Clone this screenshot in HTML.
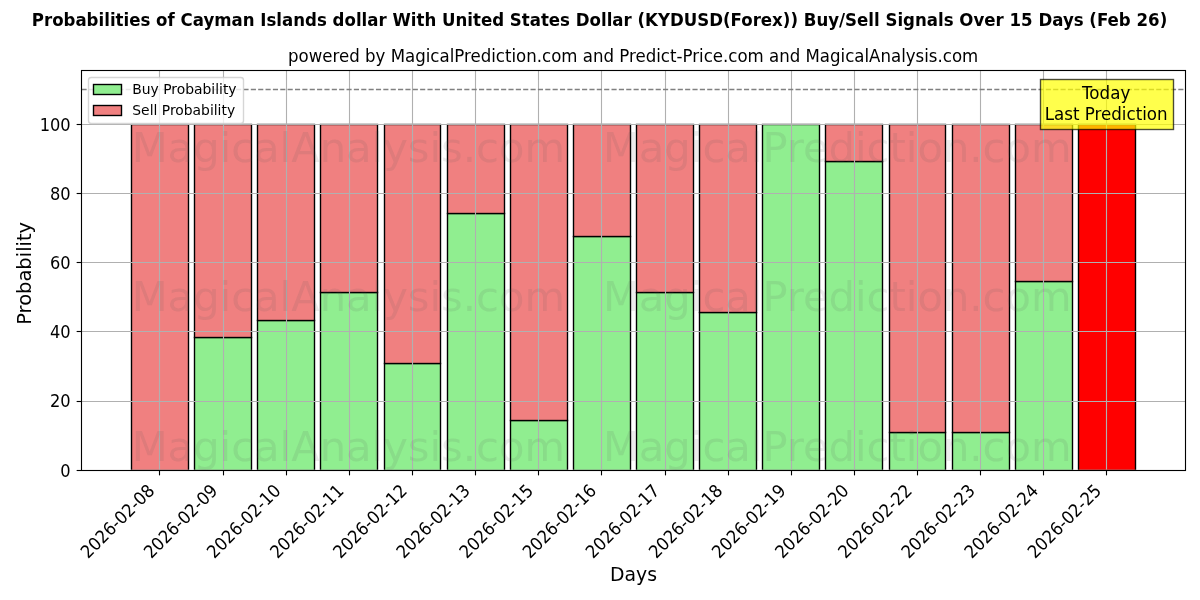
<!DOCTYPE html>
<html lang="en"><head><meta charset="utf-8"><title>KYDUSD Buy/Sell Signals</title>
<style>html,body{margin:0;padding:0;background:#fff}body{width:1200px;height:600px;overflow:hidden}svg{display:block;font-family:'DejaVu Sans','Liberation Sans',sans-serif}.t12{font-size:16.667px}.t14{font-size:19.444px}.t10{font-size:13.889px}.wm{font-size:41.667px;fill:#555;fill-opacity:0.11;text-anchor:middle}.mid{text-anchor:middle}.end{text-anchor:end}.bar{stroke:#000;stroke-width:1.389;stroke-linejoin:miter}.grid{stroke:#b0b0b0;stroke-width:1.111;fill:none}.tick{stroke:#000;stroke-width:1.111}.spine{stroke:#000;stroke-width:1.111;stroke-linecap:square;fill:none}</style></head><body>
<svg width="1200" height="600" viewBox="0 0 1200 600">
<rect width="1200" height="600" fill="#fff"/>
<defs><clipPath id="axclip"><rect x="80.903" y="70.333" width="1104.097" height="399.514"/></clipPath></defs>
<g clip-path="url(#axclip)">
<g id="buy-bars">
<rect class="bar" x="131.5" y="470.5" width="57" height="0" fill="#90ee90"/>
<rect class="bar" x="194.5" y="337.5" width="57" height="133" fill="#90ee90"/>
<rect class="bar" x="257.5" y="320.5" width="57" height="150" fill="#90ee90"/>
<rect class="bar" x="320.5" y="292.5" width="57" height="178" fill="#90ee90"/>
<rect class="bar" x="384.5" y="363.5" width="56" height="107" fill="#90ee90"/>
<rect class="bar" x="447.5" y="213.5" width="57" height="257" fill="#90ee90"/>
<rect class="bar" x="510.5" y="420.5" width="57" height="50" fill="#90ee90"/>
<rect class="bar" x="573.5" y="236.5" width="57" height="234" fill="#90ee90"/>
<rect class="bar" x="636.5" y="292.5" width="57" height="178" fill="#90ee90"/>
<rect class="bar" x="699.5" y="312.5" width="57" height="158" fill="#90ee90"/>
<rect class="bar" x="762.5" y="124.5" width="57" height="346" fill="#90ee90"/>
<rect class="bar" x="825.5" y="161.5" width="57" height="309" fill="#90ee90"/>
<rect class="bar" x="889.5" y="432.5" width="56" height="38" fill="#90ee90"/>
<rect class="bar" x="952.5" y="432.5" width="57" height="38" fill="#90ee90"/>
<rect class="bar" x="1015.5" y="281.5" width="57" height="189" fill="#90ee90"/>
</g><g id="sell-bars">
<rect class="bar" x="131.5" y="124.5" width="57" height="346" fill="#f08080"/>
<rect class="bar" x="194.5" y="124.5" width="57" height="213" fill="#f08080"/>
<rect class="bar" x="257.5" y="124.5" width="57" height="196" fill="#f08080"/>
<rect class="bar" x="320.5" y="124.5" width="57" height="168" fill="#f08080"/>
<rect class="bar" x="384.5" y="124.5" width="56" height="239" fill="#f08080"/>
<rect class="bar" x="447.5" y="124.5" width="57" height="89" fill="#f08080"/>
<rect class="bar" x="510.5" y="124.5" width="57" height="296" fill="#f08080"/>
<rect class="bar" x="573.5" y="124.5" width="57" height="112" fill="#f08080"/>
<rect class="bar" x="636.5" y="124.5" width="57" height="168" fill="#f08080"/>
<rect class="bar" x="699.5" y="124.5" width="57" height="188" fill="#f08080"/>
<rect class="bar" x="762.5" y="124.5" width="57" height="0" fill="#f08080"/>
<rect class="bar" x="825.5" y="124.5" width="57" height="37" fill="#f08080"/>
<rect class="bar" x="889.5" y="124.5" width="56" height="308" fill="#f08080"/>
<rect class="bar" x="952.5" y="124.5" width="57" height="308" fill="#f08080"/>
<rect class="bar" x="1015.5" y="124.5" width="57" height="157" fill="#f08080"/>
</g><g id="today-bar">
<rect class="bar" x="1078.5" y="124.5" width="57" height="346" fill="#ff0000"/>
</g>
<g id="grid">
<line class="grid" x1="159.5" x2="159.5" y1="70.333" y2="469.847"/>
<line class="grid" x1="223.5" x2="223.5" y1="70.333" y2="469.847"/>
<line class="grid" x1="286.5" x2="286.5" y1="70.333" y2="469.847"/>
<line class="grid" x1="349.5" x2="349.5" y1="70.333" y2="469.847"/>
<line class="grid" x1="412.5" x2="412.5" y1="70.333" y2="469.847"/>
<line class="grid" x1="475.5" x2="475.5" y1="70.333" y2="469.847"/>
<line class="grid" x1="538.5" x2="538.5" y1="70.333" y2="469.847"/>
<line class="grid" x1="601.5" x2="601.5" y1="70.333" y2="469.847"/>
<line class="grid" x1="665.5" x2="665.5" y1="70.333" y2="469.847"/>
<line class="grid" x1="728.5" x2="728.5" y1="70.333" y2="469.847"/>
<line class="grid" x1="791.5" x2="791.5" y1="70.333" y2="469.847"/>
<line class="grid" x1="854.5" x2="854.5" y1="70.333" y2="469.847"/>
<line class="grid" x1="917.5" x2="917.5" y1="70.333" y2="469.847"/>
<line class="grid" x1="980.5" x2="980.5" y1="70.333" y2="469.847"/>
<line class="grid" x1="1043.5" x2="1043.5" y1="70.333" y2="469.847"/>
<line class="grid" x1="1106.5" x2="1106.5" y1="70.333" y2="469.847"/>
<line class="grid" x1="80.903" x2="1185" y1="470.5" y2="470.5"/>
<line class="grid" x1="80.903" x2="1185" y1="401.5" y2="401.5"/>
<line class="grid" x1="80.903" x2="1185" y1="331.5" y2="331.5"/>
<line class="grid" x1="80.903" x2="1185" y1="262.5" y2="262.5"/>
<line class="grid" x1="80.903" x2="1185" y1="193.5" y2="193.5"/>
<line class="grid" x1="80.903" x2="1185" y1="124.5" y2="124.5"/>
</g>
<line x1="81.5" x2="1185" y1="89.5" y2="89.5" stroke="#808080" stroke-width="1.389" stroke-dasharray="5.139 2.222"/>
</g>
<g id="ticks">
<line class="tick" x1="159.5" x2="159.5" y1="470.5" y2="475.361"/>
<line class="tick" x1="223.5" x2="223.5" y1="470.5" y2="475.361"/>
<line class="tick" x1="286.5" x2="286.5" y1="470.5" y2="475.361"/>
<line class="tick" x1="349.5" x2="349.5" y1="470.5" y2="475.361"/>
<line class="tick" x1="412.5" x2="412.5" y1="470.5" y2="475.361"/>
<line class="tick" x1="475.5" x2="475.5" y1="470.5" y2="475.361"/>
<line class="tick" x1="538.5" x2="538.5" y1="470.5" y2="475.361"/>
<line class="tick" x1="601.5" x2="601.5" y1="470.5" y2="475.361"/>
<line class="tick" x1="665.5" x2="665.5" y1="470.5" y2="475.361"/>
<line class="tick" x1="728.5" x2="728.5" y1="470.5" y2="475.361"/>
<line class="tick" x1="791.5" x2="791.5" y1="470.5" y2="475.361"/>
<line class="tick" x1="854.5" x2="854.5" y1="470.5" y2="475.361"/>
<line class="tick" x1="917.5" x2="917.5" y1="470.5" y2="475.361"/>
<line class="tick" x1="980.5" x2="980.5" y1="470.5" y2="475.361"/>
<line class="tick" x1="1043.5" x2="1043.5" y1="470.5" y2="475.361"/>
<line class="tick" x1="1106.5" x2="1106.5" y1="470.5" y2="475.361"/>
<line class="tick" x1="76.639" x2="81.5" y1="470.5" y2="470.5"/>
<line class="tick" x1="76.639" x2="81.5" y1="401.5" y2="401.5"/>
<line class="tick" x1="76.639" x2="81.5" y1="331.5" y2="331.5"/>
<line class="tick" x1="76.639" x2="81.5" y1="262.5" y2="262.5"/>
<line class="tick" x1="76.639" x2="81.5" y1="193.5" y2="193.5"/>
<line class="tick" x1="76.639" x2="81.5" y1="124.5" y2="124.5"/>
</g>
<rect class="spine" x="81.5" y="70.5" width="1104" height="400"/>
<g id="xlabels" class="t12">
<text class="t12" transform="translate(88.055 559.264) rotate(-45) scale(0.986 1.067)">2026-02-08</text>
<text class="t12" transform="translate(151.183 559.264) rotate(-45) scale(0.986 1.067)">2026-02-09</text>
<text class="t12" transform="translate(214.31 559.264) rotate(-45) scale(0.986 1.067)">2026-02-10</text>
<text class="t12" transform="translate(277.437 559.264) rotate(-45) scale(0.986 1.067)">2026-02-11</text>
<text class="t12" transform="translate(340.565 559.264) rotate(-45) scale(0.986 1.067)">2026-02-12</text>
<text class="t12" transform="translate(403.692 559.264) rotate(-45) scale(0.986 1.067)">2026-02-13</text>
<text class="t12" transform="translate(466.82 559.264) rotate(-45) scale(0.986 1.067)">2026-02-15</text>
<text class="t12" transform="translate(529.947 559.264) rotate(-45) scale(0.986 1.067)">2026-02-16</text>
<text class="t12" transform="translate(593.074 559.264) rotate(-45) scale(0.986 1.067)">2026-02-17</text>
<text class="t12" transform="translate(656.202 559.264) rotate(-45) scale(0.986 1.067)">2026-02-18</text>
<text class="t12" transform="translate(719.329 559.264) rotate(-45) scale(0.986 1.067)">2026-02-19</text>
<text class="t12" transform="translate(782.456 559.264) rotate(-45) scale(0.986 1.067)">2026-02-20</text>
<text class="t12" transform="translate(845.584 559.264) rotate(-45) scale(0.986 1.067)">2026-02-22</text>
<text class="t12" transform="translate(908.711 559.264) rotate(-45) scale(0.986 1.067)">2026-02-23</text>
<text class="t12" transform="translate(971.838 559.264) rotate(-45) scale(0.986 1.067)">2026-02-24</text>
<text class="t12" transform="translate(1034.966 559.264) rotate(-45) scale(0.986 1.067)">2026-02-25</text>
</g><g id="ylabels" class="t12 end">
<text class="t12 end" transform="translate(70.681 477) scale(0.975 1.093)">0</text>
<text class="t12 end" transform="translate(70.681 407) scale(0.975 1.093)">20</text>
<text class="t12 end" transform="translate(70.681 338) scale(0.975 1.093)">40</text>
<text class="t12 end" transform="translate(70.681 269) scale(0.975 1.093)">60</text>
<text class="t12 end" transform="translate(70.681 200) scale(0.975 1.093)">80</text>
<text class="t12 end" transform="translate(70.681 131) scale(0.975 1.093)">100</text>
</g>
<text class="t14 mid" transform="translate(633.501 580.795) scale(0.97 0.955)">Days</text>
<text class="t14 mid" transform="translate(30.769 273.34) rotate(-90) scale(1.002 1)">Probability</text>
<rect x="1040.5" y="79.5" width="133" height="50" fill="#ffff00" fill-opacity="0.7" stroke="#000" stroke-opacity="0.7" stroke-width="1.389"/>
<text class="t12 mid" transform="translate(1106.156 99.48) scale(1.002 1.093)">Today</text>
<text class="t12 mid" transform="translate(1106.156 120.143) scale(1.002 1.093)">Last Prediction</text>
<g id="watermarks" clip-path="url(#axclip)">
<text class="wm" transform="translate(348.315 161.733)">MagicalAnalysis.com</text>
<text class="wm" transform="translate(837.209 161.733)">MagicalPrediction.com</text>
<text class="wm" transform="translate(348.315 311.351)">MagicalAnalysis.com</text>
<text class="wm" transform="translate(837.209 311.351)">MagicalPrediction.com</text>
<text class="wm" transform="translate(348.315 461.369)">MagicalAnalysis.com</text>
<text class="wm" transform="translate(837.209 461.369)">MagicalPrediction.com</text>
</g>
<text class="t12 mid" transform="translate(633.151 62) scale(0.997 1.1)">powered by MagicalPrediction.com and Predict-Price.com and MagicalAnalysis.com</text>
<rect x="88.5" y="77.5" width="155" height="46" rx="2.778" fill="#fff" fill-opacity="0.8" stroke="#ccc" stroke-opacity="0.8" stroke-width="1.389"/>
<rect class="bar" x="93.5" y="84.5" width="28" height="10" fill="#90ee90"/>
<text class="t10" transform="translate(132.292 94.383) scale(1 1.06)">Buy Probability</text>
<rect class="bar" x="93.5" y="105.5" width="28" height="10" fill="#f08080"/>
<text class="t10" transform="translate(132.292 115.328) scale(1 1.06)">Sell Probability</text>
<text class="t12 mid" transform="translate(599.5 26.004) scale(0.997 1.07)" font-weight="bold">Probabilities of Cayman Islands dollar With United States Dollar (KYDUSD(Forex)) Buy/Sell Signals Over 15 Days (Feb 26)</text>
</svg></body></html>
